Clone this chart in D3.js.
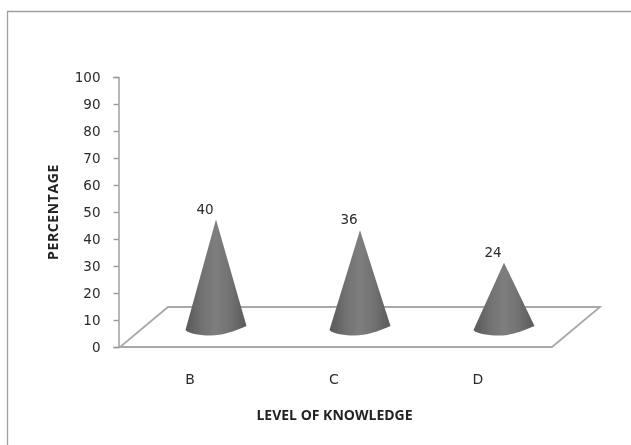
<!DOCTYPE html>
<html>
<head>
<meta charset="utf-8">
<script src="https://cdn.jsdelivr.net/npm/d3@7"></script>
<style>
  html, body { margin: 0; padding: 0; background: #fff; }
  svg { display: block; }
  text { fill: #2a2a2a; }
  .tick-label { font: 13.5px "DejaVu Sans", sans-serif; }
  .data-label { font: 13.5px "DejaVu Sans", sans-serif; }
  .cat-label { font: 14px "DejaVu Sans", sans-serif; }
  .axis-title { font: bold 14px "Open Sans", sans-serif; fill: #222; }
</style>
</head>
<body>
<div id="chart"></div>
<script>
const categories = ["B", "C", "D"];
const values = [40, 36, 24];
const yTicks = [0, 10, 20, 30, 40, 50, 60, 70, 80, 90, 100];

const width = 631, height = 445;
const plot = { left: 120, right: 552, top: 77, bottom: 347 };
// floor depth of the fake 3d box
const depth = { x: 48, y: -40 };
const coneHalf = 30.5;

const x = d3.scaleBand().domain(categories).range([plot.left, plot.right]);
const y = d3.scaleLinear().domain([0, 100]).range([plot.bottom, plot.top]);

const svg = d3.select("#chart").append("svg")
  .attr("width", width)
  .attr("height", height);

const defs = svg.append("defs");

const grad = defs.append("linearGradient").attr("id", "coneFill");
[[0, "#585858"], [0.25, "#707070"], [0.5, "#7e7e7e"], [0.75, "#707070"], [1, "#5a5a5a"]]
  .forEach(([o, c]) => grad.append("stop").attr("offset", o).attr("stop-color", c));

defs.append("filter").attr("id", "soft")
  .append("feGaussianBlur").attr("stdDeviation", 0.55);

const root = svg.append("g").attr("filter", "url(#soft)");

// outer frame, only top and left edges show in the scan
root.append("path")
  .attr("d", `M7.5,${height}V11.5H${width}`)
  .attr("fill", "none")
  .attr("stroke", "#a0a0a0")
  .attr("stroke-width", 1.3);

// floor
const floor = d3.path();
floor.moveTo(plot.left, plot.bottom);
floor.lineTo(plot.right, plot.bottom);
floor.lineTo(plot.right + depth.x, plot.bottom + depth.y);
floor.lineTo(plot.left + depth.x, plot.bottom + depth.y);
floor.closePath();
root.append("path")
  .attr("d", floor.toString())
  .attr("fill", "#fff")
  .attr("stroke", "#a8a8a8")
  .attr("stroke-width", 1.8);

// y axis
const axis = root.append("g")
  .attr("transform", "translate(118.5,0)")
  .call(d3.axisLeft(y).tickValues(yTicks).tickSize(5).tickPadding(13));
axis.selectAll("path, line").attr("stroke", "#9a9a9a").attr("stroke-width", 1.4);
axis.selectAll("text").attr("class", "tick-label").attr("fill", null);

// cones
const cones = root.append("g").selectAll("g")
  .data(categories.map((c, i) => ({ c, v: values[i] })))
  .join("g");

cones.append("path")
  .attr("fill", "url(#coneFill)")
  .attr("d", d => {
    const cx = x(d.c) + x.bandwidth() / 2 + depth.x / 2;
    const base = plot.bottom + depth.y / 2 + 0.5;
    const tip = y(d.v) + depth.y / 2 + 0.5;
    return `M${cx},${tip}L${cx + coneHalf},${base - 1.5}` +
      `C${cx + 18},${base + 4} ${cx + 6},${base + 8} ${cx - 5},${base + 8}` +
      `C${cx - 15},${base + 8} ${cx - 27},${base + 6.5} ${cx - coneHalf},${base + 2.5}Z`;
  });

cones.append("text")
  .attr("class", "data-label")
  .attr("text-anchor", "middle")
  .attr("x", d => x(d.c) + x.bandwidth() / 2 + depth.x / 2 - 11)
  .attr("y", d => y(d.v) + depth.y / 2 - 5.5)
  .text(d => d.v);

// category labels
root.append("g").selectAll("text")
  .data(categories)
  .join("text")
  .attr("class", "cat-label")
  .attr("text-anchor", "middle")
  .attr("x", d => x(d) + x.bandwidth() / 2 - 2)
  .attr("y", 384)
  .text(d => d);

root.append("text")
  .attr("class", "axis-title")
  .attr("text-anchor", "middle")
  .attr("x", 334.5)
  .attr("y", 420)
  .text("LEVEL OF KNOWLEDGE");

root.append("text")
  .attr("class", "axis-title")
  .attr("text-anchor", "middle")
  .attr("letter-spacing", 0.6)
  .attr("transform", "translate(58,212) rotate(-90)")
  .text("PERCENTAGE");
</script>
</body>
</html>
